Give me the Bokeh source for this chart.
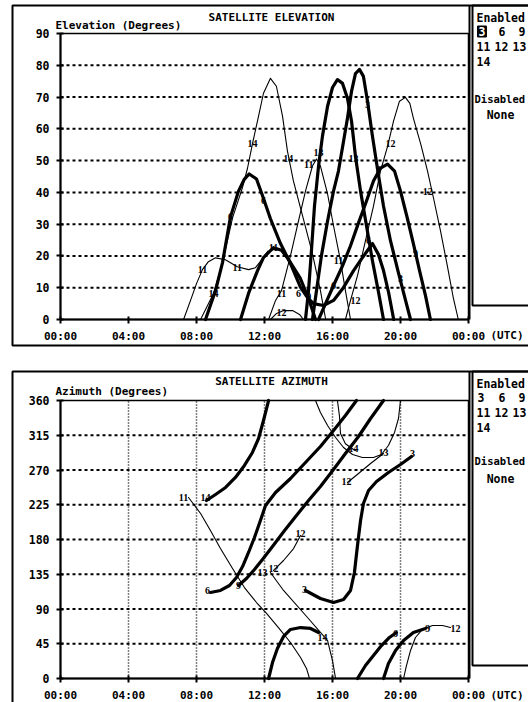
from bokeh.plotting import figure
from bokeh.models import FixedTicker, Label
from bokeh.layouts import column
from bokeh.core.properties import value
from bokeh.embed import file_html
from bokeh.resources import INLINE

MONO = "DejaVu Sans Mono"
SERIF = "Liberation Serif"

# ---------------- data ----------------
hour_ticks = [0, 4, 8, 12, 16, 20, 24]
hour_labels = ["00:00", "04:00", "08:00", "12:00", "16:00", "20:00", "00:00"]
elev_ticks = [0, 10, 20, 30, 40, 50, 60, 70, 80, 90]
azim_ticks = [0, 45, 90, 135, 180, 225, 270, 315, 360]
enabled_rows = [["3", "6", "9"], ["11", "12", "13"], ["14"]]
disabled_list = ["None"]
selected_sat = "3"

# ---- elevation tracks (hours UTC, degrees) ----
el6_h = [8.53, 9.12, 9.53, 10.0, 10.47, 10.82, 11.1, 11.53, 11.88, 12.35, 12.94, 13.53, 14.12,
         14.53, 14.88, 15.47, 16.06, 16.65, 17.24, 17.7, 18.06, 18.35, 18.7, 19.0, 19.3, 19.6]
el6_v = [0, 9.1, 17.9, 32.3, 40.4, 44.2, 45.8, 44.2, 39.0, 31.7, 23.9, 17.6, 10.1,
         6.9, 5.0, 4.4, 6.0, 10.1, 15.4, 19.0, 21.7, 23.9, 20.5, 15.4, 8.5, 0]
elb_h = [10.59, 11.06, 11.59, 11.94, 12.53, 13.0, 13.4, 14.1, 14.6, 15.0]
elb_v = [0, 8.2, 15.4, 19.5, 22.6, 21.8, 19.0, 13.0, 6.5, 0]
el13_h = [14.41, 14.59, 14.76, 14.94, 15.18, 15.41, 15.71, 16.0, 16.29, 16.59, 16.88, 17.12,
          17.35, 17.65, 18.0, 18.35, 18.71, 19.0]
el13_v = [0, 9.1, 21.6, 35.7, 48.3, 57.7, 67.1, 73.0, 75.5, 74.3, 69.6, 62.4,
          51.4, 40.4, 29.5, 18.5, 8.5, 0]
el3_h = [14.82, 15.06, 15.35, 15.71, 16.06, 16.35, 16.65, 16.88, 17.12, 17.35, 17.59, 17.82,
         18.06, 18.35, 18.65, 19.0, 19.41, 19.88, 20.24, 20.59]
el3_v = [0, 9.1, 20.1, 31.0, 40.4, 46.7, 56.1, 63.3, 71.8, 77.4, 78.7, 76.5,
         68.7, 57.7, 47.3, 35.7, 24.8, 14.7, 7.2, 0]
el9_h = [15.18, 15.59, 16.06, 16.59, 17.06, 17.53, 18.0, 18.41, 18.82, 19.24, 19.65, 20.0,
         20.41, 20.76, 21.12, 21.47, 21.76]
el9_v = [0, 5.0, 10.7, 16.9, 23.2, 30.4, 37.3, 43.6, 47.6, 48.9, 46.7, 40.4,
         31.7, 23.8, 15.4, 7.5, 0]
el14_h = [8.24, 9.0, 9.53, 10.12, 10.7, 11.0, 11.3, 11.65, 11.94, 12.35, 12.7, 13.06, 13.35,
          13.7, 14.24, 14.82, 15.29, 15.6]
el14_v = [0, 8.2, 17.9, 32.0, 41.4, 47.6, 55.5, 64.0, 71.2, 75.9, 73.4, 64.0, 53.0,
          43.6, 32.6, 20.7, 9.1, 0]
el11_h = [7.24, 7.65, 8.0, 8.35, 8.7, 9.12, 9.7, 10.4, 11.06, 11.47, 11.88, 12.2]
el11_v = [0, 6.0, 11.3, 15.7, 18.2, 19.4, 18.8, 16.6, 15.7, 16.3, 19.1, 21.5]
el11b_h = [12.24, 12.65, 13.0, 13.53, 14.0, 14.41, 14.82, 15.06, 15.29, 15.71, 16.06, 16.47,
           16.76, 17.06]
el11b_v = [0, 6.0, 9.1, 20.1, 31.0, 40.4, 48.3, 50.5, 48.3, 39.5, 29.5, 18.5, 9.1, 0]
el12_h = [16.76, 17.06, 17.47, 17.94, 18.41, 18.82, 19.24, 19.59, 19.94, 20.29, 20.55, 20.76,
          21.2, 21.59, 21.95, 22.35, 22.75, 23.1, 23.4]
el12_v = [0, 6.0, 13.8, 24.8, 35.7, 46.7, 54.5, 62.4, 68.7, 69.9, 68.0, 63.3,
          55.0, 46.7, 38.0, 28.0, 17.0, 7.0, 0]
el12b_h = [12.35, 12.71, 13.12, 13.65, 14.06, 14.29]
el12b_v = [0, 1.9, 2.8, 2.8, 1.6, 0]

el_lab_t = ["11", "11", "14", "6", "14", "6", "14", "11", "11", "12", "6", "9", "13", "11",
            "13", "3", "12", "9", "12", "9", "3", "6", "12", "11", "6"]
el_lab_h = [8.35, 10.4, 9.0, 10.0, 11.3, 11.94, 13.4, 12.53, 13.0, 13.0, 14.0, 14.6, 15.18, 14.6,
            17.24, 18.06, 19.41, 18.7, 21.6, 20.88, 20.0, 18.12, 17.35, 16.35, 16.06]
el_lab_v = [15.7, 16.3, 8.2, 32.3, 55.5, 37.3, 50.8, 22.6, 8.2, 2.2, 8.2, 7.2, 52.4, 48.9,
            50.8, 67.7, 55.5, 47.3, 40.4, 20.7, 12.9, 24.8, 6.0, 18.5, 10.7]

# ---- azimuth tracks (hours UTC, degrees) ----
az14_h = [8.59, 9.12, 9.71, 10.29, 10.82, 11.29, 11.65, 11.94, 12.12, 12.24]
az14_v = [230.5, 238.3, 247.4, 260.4, 275.9, 292.7, 310.8, 334.1, 349.6, 360]
az11_h = [7.53, 8.24, 8.82, 9.41, 10.12, 10.82, 11.53, 12.12, 12.82, 13.53, 14.12, 14.47, 14.65]
az11_v = [234.4, 213.7, 191.7, 168.3, 142.4, 117.8, 98.4, 84.2, 66.0, 46.6, 27.2, 13.0, 0]
az6_h = [8.82, 9.41, 9.94, 10.35, 10.71, 11.06, 11.41, 11.76, 12.06, 12.65, 13.53, 14.41,
         15.29, 16.06, 16.76, 17.41]
az6_v = [111.4, 114.0, 120.4, 130.8, 145.0, 163.2, 182.6, 204.6, 224.0, 240.9, 259.0, 279.7,
         300.4, 321.2, 340.6, 360]
az9_h = [10.47, 10.94, 11.41, 11.88, 12.47, 13.18, 13.88, 14.59, 15.29, 16.06, 16.76, 17.53,
         18.24, 19.0]
az9_v = [120.4, 129.5, 141.2, 154.1, 170.9, 191.7, 211.1, 230.5, 248.6, 270.7, 291.4, 313.4,
         336.7, 360]
az3_h = [14.41, 15.29, 16.06, 16.65, 17.06, 17.29, 17.47, 17.65, 17.82, 18.12, 18.59, 19.29,
         20.0, 20.65]
az3_v = [114.0, 103.6, 98.4, 102.3, 114.0, 137.3, 172.2, 204.6, 226.6, 243.5, 255.1, 266.8,
         277.1, 287.5]
az13_h = [15.0, 15.29, 15.71, 16.18, 16.65, 17.18, 17.76, 18.41, 18.88, 19.29, 19.65, 19.88, 20.0]
az13_v = [360, 344.5, 327.6, 312.1, 299.1, 290.1, 286.2, 286.2, 290.1, 301.7, 318.6, 336.7, 360]
az14b_h = [16.29, 16.41, 16.47, 16.76, 17.06, 17.35]
az14b_v = [360, 340.0, 317.3, 304.0, 299.1, 295.0]
az12a_h = [16.88, 17.53, 18.24, 19.0]
az12a_v = [253.8, 265.5, 278.4, 291.4]
az12b_h = [12.53, 13.12, 13.71, 14.12]
az12b_v = [139.9, 152.8, 168.3, 185.2]
az14c_h = [12.35, 13.12, 14.53, 15.29, 15.71, 16.0, 16.18]
az14c_v = [137.3, 114.0, 79.0, 59.6, 49.2, 23.3, 0]
azarc_h = [12.24, 12.47, 12.76, 13.12, 13.53, 14.12, 14.71, 15.18]
azarc_v = [0, 20.7, 38.8, 54.4, 63.5, 66.0, 64.8, 59.6]
az6b_h = [17.47, 17.94, 18.41, 18.88, 19.35, 19.76]
az6b_v = [0, 16.8, 29.8, 42.7, 53.1, 59.6]
az9b_h = [19.0, 19.29, 19.71, 20.18, 20.76, 21.47]
az9b_v = [0, 19.4, 36.3, 49.2, 59.6, 64.8]
az12c_h = [20.18, 20.35, 20.59, 20.88, 21.29, 21.88, 22.47, 22.94]
az12c_v = [0, 16.8, 36.3, 53.1, 63.5, 68.6, 68.6, 66.0]

az_lab_t = ["11", "14", "6", "9", "13", "12", "12", "3", "12", "14", "13", "3", "14", "6", "9", "12"]
az_lab_h = [7.24, 8.53, 8.65, 10.47, 11.88, 12.53, 14.12, 14.35, 16.82, 17.24, 19.0, 20.7,
            15.41, 19.7, 21.6, 23.24]
az_lab_v = [234, 234, 114, 120, 137, 142, 188, 115, 255, 298, 293, 291, 53, 58, 65, 65]

THICK = 3.2
THIN = 1.1

el_tracks = [(el6_h, el6_v, THICK), (elb_h, elb_v, THICK), (el13_h, el13_v, THICK),
             (el3_h, el3_v, THICK), (el9_h, el9_v, THICK), (el14_h, el14_v, THIN),
             (el11_h, el11_v, THIN), (el11b_h, el11b_v, THIN), (el12_h, el12_v, THIN),
             (el12b_h, el12b_v, THIN)]
az_tracks = [(az14_h, az14_v, THICK), (az11_h, az11_v, THIN), (az6_h, az6_v, THICK),
             (az9_h, az9_v, THICK), (az3_h, az3_v, THICK), (az13_h, az13_v, THIN),
             (az14b_h, az14b_v, THIN), (az12a_h, az12a_v, THIN), (az12b_h, az12b_v, THIN),
             (az14c_h, az14c_v, THIN), (azarc_h, azarc_v, THICK), (az6b_h, az6b_v, THICK),
             (az9b_h, az9b_v, THICK), (az12c_h, az12c_v, THIN)]

# ---------------- layout (page pixels) ----------------
W = 528
FR_L, FR_R = 60, 468           # plot area left/right (page x)
TOP_H, BOT_H = 358, 344
TOP_FT, TOP_FB = 33, 319       # elevation plot area top/bottom (page y)
BOT_FT, BOT_FB = 400, 678      # azimuth plot area top/bottom (page y)


def fx(X):
    return (X - FR_L) * 24.0 / (FR_R - FR_L)


def make_fy(ft, fb, ymax):
    return lambda Y: (fb - Y) * ymax / (fb - ft)


def make_fig(height, page_top, fy, ymax, yticks, vgrid):
    p = figure(width=W, height=height,
               x_range=(fx(0), fx(W)), y_range=(fy(page_top + height), fy(page_top)),
               output_backend="svg", toolbar_location=None,
               min_border_left=0, min_border_right=0, min_border_top=0, min_border_bottom=0)
    p.title.visible = False
    p.background_fill_color = "white"
    p.border_fill_color = "white"
    p.outline_line_color = None
    for ax in (p.xaxis[0], p.yaxis[0]):
        ax.fixed_location = 0
        ax.axis_line_width = 2
        ax.axis_line_color = "black"
        ax.major_tick_line_width = 2
        ax.major_tick_line_color = "black"
        ax.major_tick_in = 3
        ax.major_tick_out = 4
        ax.minor_tick_line_color = None
        ax.major_label_text_font = MONO
        ax.major_label_text_font_style = "bold"
        ax.major_label_text_font_size = "11px"
        ax.major_label_text_color = "black"
    p.xaxis.ticker = FixedTicker(ticks=hour_ticks)
    p.xaxis.bounds = (hour_ticks[0], hour_ticks[-1])
    p.xaxis.major_label_overrides = {t: s for t, s in zip(hour_ticks, hour_labels)}
    p.xaxis.major_label_standoff = 6
    p.yaxis.ticker = FixedTicker(ticks=yticks)
    p.yaxis.bounds = (yticks[0], yticks[-1])
    p.yaxis.major_label_standoff = 7
    p.yaxis.major_label_text_font_size = "11.5px"
    p.xgrid.visible = False
    p.ygrid.visible = False
    # horizontal dashed grid
    gy = yticks[1:-1]
    p.segment(x0=[hour_ticks[0]] * len(gy), x1=[hour_ticks[-1]] * len(gy), y0=gy, y1=gy,
              line_color="black", line_width=2, line_dash="3 3", level="underlay")
    if vgrid:
        gx = hour_ticks[1:-1]
        p.segment(x0=gx, x1=gx, y0=[yticks[0]] * len(gx), y1=[yticks[-1]] * len(gx),
                  line_color="black", line_width=1.5, line_dash="1 2", level="underlay")
    # plot area frame (top & right edges)
    p.quad(left=[hour_ticks[0]], right=[hour_ticks[-1]], bottom=[yticks[0]], top=[yticks[-1]],
           fill_color=None, line_color="black", line_width=1.5)
    return p


def add_label(p, fy, X, Y, text, size="11.5px", align="left", invert=False):
    if invert:
        kw = dict(background_fill_color="black", text_color="white",
                  border_line_color="black", border_line_width=1, padding=1)
    else:
        kw = dict(text_color="black")
    p.add_layout(Label(x=fx(X), y=fy(Y), text=text, text_font=MONO, text_font_style="bold",
                       text_font_size=size, text_align=align, text_baseline="middle", **kw))


def add_box(p, fy, L, R, T, B):
    p.quad(left=[fx(L)], right=[fx(R)], top=[fy(T)], bottom=[fy(B)],
           fill_color=None, line_color="black", line_width=2)


def decorate(p, fy, box_top, box_bottom, leg_bottom, plot_bottom, title, title_y, ylab, ylab_y,
             rows_y, dis_y, none_y, utc_y, highlight):
    add_box(p, fy, 12, 545, box_top, box_bottom)          # outer panel box
    add_box(p, fy, 472, 545, box_top, leg_bottom)         # legend box
    # divider between plot area and legend
    p.segment(x0=[fx(FR_R + 1)], x1=[fx(FR_R + 1)], y0=[fy(box_top)], y1=[fy(plot_bottom)],
              line_color="black", line_width=2)
    add_label(p, fy, 271, title_y, title, size="11px", align="center")
    add_label(p, fy, 55, ylab_y, ylab, size="11px")
    add_label(p, fy, 476, rows_y[0], "Enabled")
    xs = [[477, 498, 518], [476, 494, 512], [476]]
    for r, row in enumerate(enabled_rows):
        for c, sat in enumerate(row):
            add_label(p, fy, xs[r][c], rows_y[r + 1], sat,
                      invert=(highlight and sat == selected_sat))
    add_label(p, fy, 474, dis_y, "Disabled", size="10.5px")
    add_label(p, fy, 500, none_y, disabled_list[0], align="center")
    add_label(p, fy, 490, utc_y, "(UTC)", size="11px")


def draw(p, tracks, lt, lh, lv):
    for h, v, w in tracks:
        p.line(h, v, line_color="black", line_width=w, line_join="round", line_cap="round")
    p.text(x=lh, y=lv, text=lt, text_font=value(SERIF), text_font_style="bold",
           text_font_size="10px", text_align="center", text_baseline="middle",
           text_color="black")


# ---------------- top: elevation ----------------
fy_top = make_fy(TOP_FT, TOP_FB, 90)
p1 = make_fig(TOP_H, 0, fy_top, 90, elev_ticks, False)
draw(p1, el_tracks, el_lab_t, el_lab_h, el_lab_v)
decorate(p1, fy_top, 5, 345, 305, TOP_FB, "SATELLITE ELEVATION", 17, "Elevation (Degrees)", 25,
         [17, 31, 46, 61], 98, 114, 335, True)

# ---------------- bottom: azimuth ----------------
fy_bot = make_fy(BOT_FT, BOT_FB, 360)
p2 = make_fig(BOT_H, TOP_H, fy_bot, 360, azim_ticks, True)
draw(p2, az_tracks, az_lab_t, az_lab_h, az_lab_v)
decorate(p2, fy_bot, 371, 720, 665, BOT_FB, "SATELLITE AZIMUTH", 381, "Azimuth (Degrees)", 391,
         [383, 397, 412, 427], 460, 478, 695, False)

layout = column(p1, p2, spacing=0)
open("out.html", "w").write(file_html(layout, INLINE))
